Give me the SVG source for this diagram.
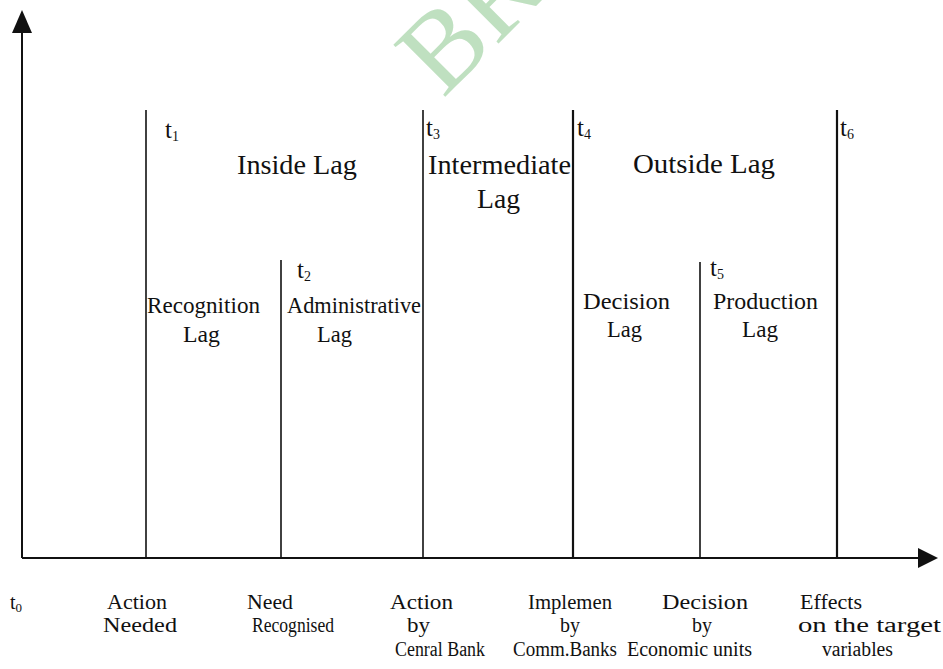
<svg xmlns="http://www.w3.org/2000/svg" width="943" height="669" viewBox="0 0 943 669">
<style>
text{font-family:"Liberation Serif","Times New Roman",serif;fill:#111}
.top{font-size:28px}
.mid{font-size:23px}
.bot{font-size:20px}
.t{font-size:25px}
.sub{font-size:14px}
.ax{stroke:#111;stroke-width:2;fill:none}
.vl{stroke:#111;stroke-width:1.6;fill:none}
.vb{stroke:#111;stroke-width:2.2;fill:none}
.wm{font-size:112px;fill:#bfe0c0}
</style>
<rect width="943" height="669" fill="#fff"/>
<text class="wm" x="443" y="99" transform="rotate(-45 443 99)">BR</text>
<g id="connectors">
<line class="ax" x1="22" y1="28" x2="22" y2="558"/>
<line class="ax" x1="22" y1="558" x2="924" y2="558"/>
<polygon points="22,10 12,33 32,33" fill="#111"/>
<polygon points="938,558 918,548 918,568" fill="#111"/>
<line class="vl" x1="146" y1="110" x2="146" y2="558"/>
<line class="vl" x1="281" y1="260" x2="281" y2="558"/>
<line class="vl" x1="423" y1="110" x2="423" y2="558"/>
<line class="vb" x1="573" y1="110" x2="573" y2="558"/>
<line class="vl" x1="700" y1="262" x2="700" y2="558"/>
<line class="vb" x1="837" y1="110" x2="837" y2="558"/>
</g>
<g id="time-marks">
<text class="t" x="165" y="138">t<tspan class="sub" dy="3">1</tspan></text>
<text class="t" x="297" y="278">t<tspan class="sub" dy="3">2</tspan></text>
<text class="t" x="426" y="136">t<tspan class="sub" dy="3">3</tspan></text>
<text class="t" x="577" y="136">t<tspan class="sub" dy="3">4</tspan></text>
<text class="t" x="710" y="276">t<tspan class="sub" dy="3">5</tspan></text>
<text class="t" x="840" y="136">t<tspan class="sub" dy="3">6</tspan></text>
</g>
<g id="inside-lag">
<text class="top" x="237" y="174" textLength="120" lengthAdjust="spacingAndGlyphs">Inside Lag</text>
</g>
<g id="intermediate-lag">
<text class="top" x="428" y="174" textLength="143" lengthAdjust="spacingAndGlyphs">Intermediate</text>
<text class="top" x="477" y="208" textLength="43" lengthAdjust="spacingAndGlyphs">Lag</text>
</g>
<g id="outside-lag">
<text class="top" x="633" y="173" textLength="142" lengthAdjust="spacingAndGlyphs">Outside Lag</text>
</g>
<g id="recognition-lag">
<text class="mid" x="147" y="313" textLength="113" lengthAdjust="spacingAndGlyphs">Recognition</text>
<text class="mid" x="183" y="342" textLength="37" lengthAdjust="spacingAndGlyphs">Lag</text>
</g>
<g id="administrative-lag">
<text class="mid" x="287" y="313" textLength="134" lengthAdjust="spacingAndGlyphs">Administrative</text>
<text class="mid" x="317" y="342" textLength="35" lengthAdjust="spacingAndGlyphs">Lag</text>
</g>
<g id="decision-lag">
<text class="mid" x="583" y="309" textLength="87" lengthAdjust="spacingAndGlyphs">Decision</text>
<text class="mid" x="607" y="337" textLength="35" lengthAdjust="spacingAndGlyphs">Lag</text>
</g>
<g id="production-lag">
<text class="mid" x="713" y="309" textLength="105" lengthAdjust="spacingAndGlyphs">Production</text>
<text class="mid" x="742" y="337" textLength="36" lengthAdjust="spacingAndGlyphs">Lag</text>
</g>
<g id="axis-labels">
<text class="bot" x="10" y="609">t<tspan font-size="13" dy="3">0</tspan></text>
<text class="bot" x="107" y="609" textLength="60" lengthAdjust="spacingAndGlyphs">Action</text>
<text class="bot" x="103" y="632" textLength="74" lengthAdjust="spacingAndGlyphs">Needed</text>
<text class="bot" x="247" y="609" textLength="46" lengthAdjust="spacingAndGlyphs">Need</text>
<text class="bot" x="252" y="632" textLength="82" lengthAdjust="spacingAndGlyphs">Recognised</text>
<text class="bot" x="390" y="609" textLength="63" lengthAdjust="spacingAndGlyphs">Action</text>
<text class="bot" x="407" y="632" textLength="23" lengthAdjust="spacingAndGlyphs">by</text>
<text class="bot" x="395" y="656" textLength="90" lengthAdjust="spacingAndGlyphs">Cenral Bank</text>
<text class="bot" x="528" y="609" textLength="84" lengthAdjust="spacingAndGlyphs">Implemen</text>
<text class="bot" x="560" y="632" textLength="20" lengthAdjust="spacingAndGlyphs">by</text>
<text class="bot" x="513" y="656" textLength="104" lengthAdjust="spacingAndGlyphs">Comm.Banks</text>
<text class="bot" x="662" y="609" textLength="86" lengthAdjust="spacingAndGlyphs">Decision</text>
<text class="bot" x="692" y="632" textLength="20" lengthAdjust="spacingAndGlyphs">by</text>
<text class="bot" x="627" y="656" textLength="125" lengthAdjust="spacingAndGlyphs">Economic units</text>
<text class="bot" x="800" y="609" textLength="62" lengthAdjust="spacingAndGlyphs">Effects</text>
<text class="bot" x="798" y="632" textLength="143" lengthAdjust="spacingAndGlyphs">on the target</text>
<text class="bot" x="822" y="656" textLength="71" lengthAdjust="spacingAndGlyphs">variables</text>
</g>
</svg>
